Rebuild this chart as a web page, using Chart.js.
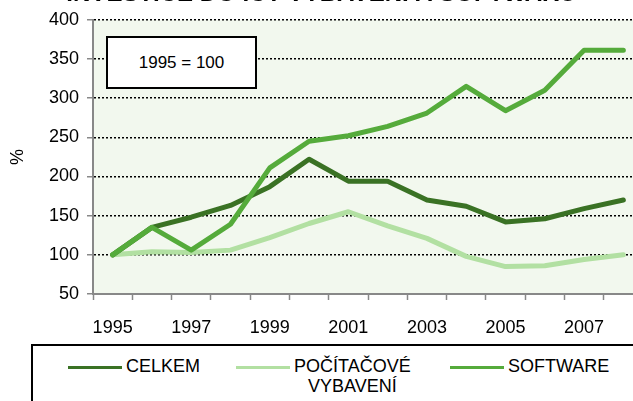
<!DOCTYPE html>
<html lang="cs">
<head>
    <meta charset="UTF-8">
    <script src="https://cdn.jsdelivr.net/npm/chart.js"></script>
    <title>Investice do ICT vybavení a softwaru</title>
    <style>
        body { margin: 0; width: 633px; height: 401px; overflow: hidden; position: relative; background: #fff; font-family: "Liberation Sans", Arial, sans-serif; }
        #wrap { position: absolute; left: 0; top: -20px; width: 660px; height: 421px; }
        .note { position: absolute; left: 106px; top: 36px; width: 147px; height: 49px; border: 2px solid #000; background: #fff;
                font-size: 17px; line-height: 49px; text-align: center; }
        .legend { position: absolute; left: 31px; top: 344px; width: 640px; height: 80px; border: 2px solid #000; background: #fff; }
        .item { position: absolute; top: 10px; font-size: 18px; line-height: 20px; text-align: center; }
        .swatch { position: absolute; height: 3px; width: 54px; top: 20px; }
    </style>
</head>
<body>
    <div id="wrap"><canvas id="chart" width="660" height="421"></canvas></div>
    <div class="note">1995 = 100</div>
    <div class="legend">
        <div class="swatch" style="left: 35px; background: #3a7224;"></div>
        <div class="item" style="left: 93px;">CELKEM</div>
        <div class="swatch" style="left: 203px; background: #b2e0a2;"></div>
        <div class="item" style="left: 261px;">POČÍTAČOVÉ<br>VYBAVENÍ</div>
        <div class="swatch" style="left: 417px; background: #55ab3b;"></div>
        <div class="item" style="left: 475px;">SOFTWARE</div>
    </div>

    <script>
        const years = ['1995', '1996', '1997', '1998', '1999', '2000', '2001', '2002', '2003', '2004', '2005', '2006', '2007', '2008'];
        const celkem = [100, 135, 148, 163, 187, 222, 194, 194, 170, 162, 142, 146, 159, 170];
        const pocitacove = [100, 104, 103, 106, 122, 140, 155, 137, 121, 98, 85, 86, 94, 100];
        const software = [100, 135, 106, 139, 211, 245, 252, 264, 281, 315, 284, 310, 361, 361];

        const font = "'Liberation Sans', Arial, sans-serif";

        // light green plot background
        const plotBg = {
            id: 'plotBg',
            beforeDraw(chart) {
                const a = chart.chartArea;
                const ctx = chart.ctx;
                ctx.save();
                ctx.fillStyle = '#f2f8ee';
                ctx.fillRect(a.left, a.top, a.right - a.left, a.bottom - a.top);
                ctx.restore();
            }
        };

        function line(label, data, color, order) {
            return {
                label: label,
                data: data,
                borderColor: color,
                backgroundColor: color,
                borderWidth: 5,
                pointRadius: 0,
                borderCapStyle: 'round',
                borderJoinStyle: 'round',
                tension: 0,
                order: order
            };
        }

        new Chart(document.getElementById('chart'), {
            type: 'line',
            data: {
                labels: years,
                datasets: [
                    line('CELKEM', celkem, '#3a7224', 2),
                    line('POČÍTAČOVÉ VYBAVENÍ', pocitacove, '#b2e0a2', 3),
                    line('SOFTWARE', software, '#55ab3b', 1)
                ]
            },
            options: {
                responsive: false,
                animation: false,
                layout: { padding: { top: 0, right: 17, bottom: 0, left: 0 } },
                plugins: {
                    legend: { display: false },
                    tooltip: { enabled: false },
                    title: {
                        display: true,
                        text: 'INVESTICE DO ICT VYBAVENÍ A SOFTWARU',
                        color: '#000',
                        font: { family: font, size: 24, weight: 'bold' },
                        padding: { top: 0, bottom: 11 }
                    }
                },
                scales: {
                    x: {
                        offset: true,
                        grid: { offset: true, drawOnChartArea: false, tickLength: 6, tickColor: '#888', tickWidth: 1.5 },
                        border: { color: '#888', width: 2 },
                        ticks: {
                            color: '#000',
                            font: { family: font, size: 18 },
                            padding: 17,
                            maxRotation: 0,
                            autoSkip: false,
                            callback: (v, i) => i % 2 === 0 ? years[i] : ''
                        },
                        afterFit: (s) => { s.height = 107; }
                    },
                    y: {
                        min: 50,
                        max: 400,
                        ticks: { stepSize: 50, color: '#000', font: { family: font, size: 18 }, padding: 8 },
                        grid: {
                            color: (c) => c.tick && c.tick.value === 50 ? 'rgba(0,0,0,0)' : '#000',
                            lineWidth: 1.5,
                            tickLength: 6,
                            tickColor: '#888',
                            tickWidth: 1.5,
                            tickBorderDash: []
                        },
                        border: { color: '#888', width: 2, dash: [2, 2] },
                        title: { display: true, text: '%', color: '#000', font: { family: font, size: 18 }, padding: { top: 7, bottom: 0 } },
                        afterFit: (s) => { s.width = 93; }
                    }
                }
            },
            plugins: [plotBg]
        });
    </script>
</body>
</html>
